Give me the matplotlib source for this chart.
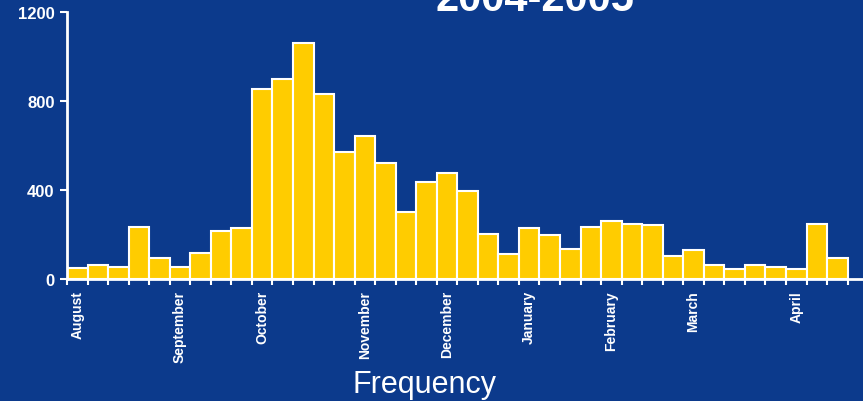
import matplotlib
matplotlib.use("Agg")
import matplotlib.pyplot as plt
import numpy as np

plt.rcParams['font.family'] = ['Liberation Sans', 'DejaVu Sans']

counts = [48, 63, 55, 235, 95, 55, 118, 217, 231, 855, 901, 1063, 834, 573,
          644, 524, 303, 438, 479, 396, 201, 111, 231, 197, 134, 235, 261, 246,
          242, 104, 131, 64, 44, 62, 54, 46, 248, 95]
month_labels = ["August", "September", "October", "November", "December",
                "January", "February", "March", "April"]
month_bins = [0, 5, 9, 14, 18, 22, 26, 30, 35]
y_ticks = [0, 400, 800, 1200]
title = "2004-2005"
xlabel = "Frequency"

bg = "#0C3A8C"
bar_color = "#FFCC00"

fig = plt.figure(figsize=(8.63, 4.02), dpi=100, facecolor=bg)
ax = fig.add_axes([67/863, (402-280)/402, 1-67/863, (280-13.3)/402])
ax.set_facecolor(bg)

x = np.arange(len(counts))
ax.bar(x, counts, width=1.0, align='edge', color=bar_color,
       edgecolor='white', linewidth=1.5, zorder=2)

ax.set_xlim(0, 38.75)
ax.set_ylim(0, 1200)

for s in ['top', 'right']:
    ax.spines[s].set_visible(False)
for s in ['left', 'bottom']:
    ax.spines[s].set_color('white')
    ax.spines[s].set_linewidth(2)
    ax.spines[s].set_zorder(3)

ax.set_xticks(np.arange(len(counts) + 1))
ax.set_xticklabels([])
ax.tick_params(axis='x', which='major', direction='out', length=4, width=1.5,
               color='white')
ax.set_xticks([b + 0.5 for b in month_bins], minor=True)
ax.set_xticklabels(month_labels, minor=True, rotation=90, fontsize=10,
                   fontweight='bold', color='white', va='top', ha='center')
ax.tick_params(axis='x', which='minor', length=0, pad=8)

ax.set_yticks(y_ticks)
ax.set_yticklabels([str(v) for v in y_ticks], fontsize=12, fontweight='bold',
                   color='white')
ax.tick_params(axis='y', direction='out', length=5, width=1.5, color='white', pad=4)

fig.text(424/863, (402-385)/402, xlabel, ha='center', va='center',
         fontsize=22, color='white')
fig.text(535/863, (402-11)/402, title, ha='center', va='baseline',
         fontsize=30, fontweight='bold', color='white')

fig.savefig("out.png", dpi=100, facecolor=bg)
